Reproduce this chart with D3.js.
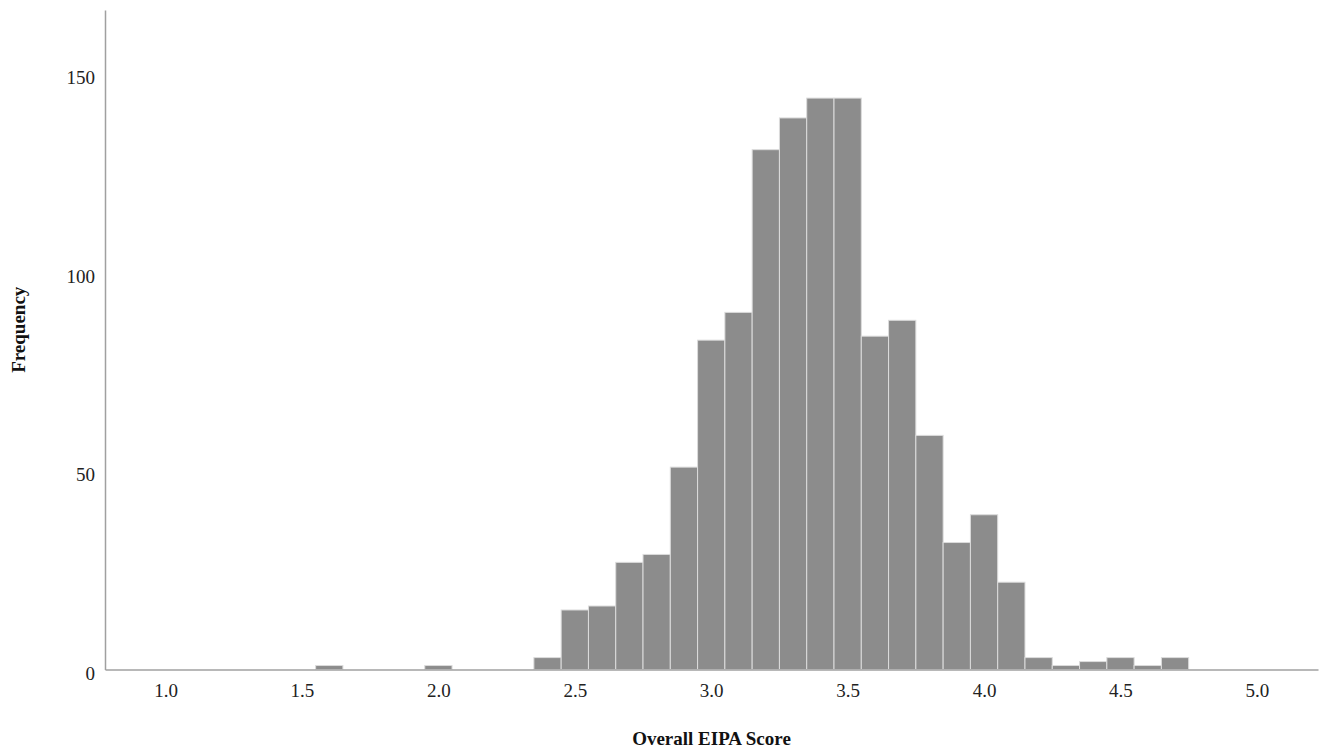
<!DOCTYPE html>
<html>
<head>
<meta charset="utf-8">
<script src="https://cdn.jsdelivr.net/npm/d3@7"></script>
<style>
    body { margin: 0; background: #fff; }
    .axis .domain { stroke: #a0a0a0; stroke-width: 1.5; }
    .axis text { font-family: "Liberation Serif", serif; font-size: 19px; fill: #222; }
</style>
</head>
<body>
<div id="chart"></div>
<script>
// bin centres (width 0.1) and their counts
const binCenters = [1.6, 2.0, 2.4, 2.5, 2.6, 2.7, 2.8, 2.9, 3.0, 3.1, 3.2, 3.3, 3.4, 3.5,
    3.6, 3.7, 3.8, 3.9, 4.0, 4.1, 4.2, 4.3, 4.4, 4.5, 4.6, 4.7];
const counts = [1, 1, 3, 15, 16, 27, 29, 51, 83, 90, 131, 139, 144, 144,
    84, 88, 59, 32, 39, 22, 3, 1, 2, 3, 1, 3];
const xTicks = [1.0, 1.5, 2.0, 2.5, 3.0, 3.5, 4.0, 4.5, 5.0];
const yTicks = [0, 50, 100, 150];
const binWidth = 0.1;

const W = 1325, H = 752;
const margin = { top: 10, right: 7, bottom: 82.5, left: 105 };
const width = W - margin.left - margin.right;
const height = H - margin.top - margin.bottom;

const svg = d3.select("#chart")
    .append("svg")
    .attr("width", W)
    .attr("height", H)
    .append("g")
    .attr("transform", `translate(${margin.left},${margin.top})`);

const x = d3.scaleLinear()
    .domain([0.778, 5.224])
    .range([0, width]);

const y = d3.scaleLinear()
    .domain([0, 166.2])
    .range([height, 0]);

const bins = binCenters.map((c, i) => ({ center: c, count: counts[i] }));

svg.selectAll(".bar")
    .data(bins)
    .enter()
    .append("rect")
    .attr("class", "bar")
    .attr("x", d => x(d.center - binWidth / 2))
    .attr("width", d => x(d.center + binWidth / 2) - x(d.center - binWidth / 2))
    .attr("y", d => y(d.count))
    .attr("height", d => height - y(d.count))
    .style("fill", "#8c8c8c")
    .style("stroke", "#dcdcdc")
    .style("stroke-width", 1);

svg.append("g")
    .attr("class", "axis")
    .attr("transform", `translate(0,${height})`)
    .call(d3.axisBottom(x).tickValues(xTicks).tickFormat(d3.format(".1f")).tickSize(0).tickPadding(14));

svg.append("g")
    .attr("class", "axis")
    .call(d3.axisLeft(y).tickValues(yTicks).tickSize(0).tickPadding(10))
    .selectAll("text")
    .attr("dy", "0.5em");

svg.append("text")
    .attr("x", width / 2)
    .attr("y", height + 75)
    .attr("text-anchor", "middle")
    .style("font-family", "Liberation Serif, serif")
    .style("font-weight", "bold")
    .style("font-size", "19px")
    .style("fill", "#111")
    .text("Overall EIPA Score");

svg.append("text")
    .attr("transform", `translate(${-80},${height / 2 - 10}) rotate(-90)`)
    .attr("text-anchor", "middle")
    .style("font-family", "Liberation Serif, serif")
    .style("font-weight", "bold")
    .style("font-size", "19px")
    .style("fill", "#111")
    .text("Frequency");
</script>
</body>
</html>
